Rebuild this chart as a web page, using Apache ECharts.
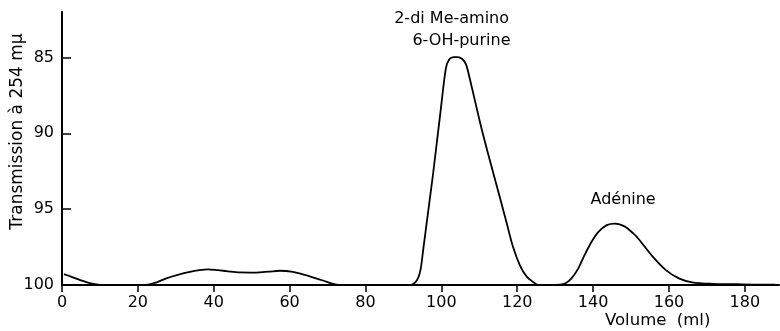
<!DOCTYPE html>
<html>
<head>
<meta charset="utf-8">
<script src="https://cdn.jsdelivr.net/npm/echarts@6/dist/echarts.min.js"></script>
<style>
  html, body { margin: 0; padding: 0; background: #fff; }
  #chart { width: 780px; height: 331px; }
</style>
</head>
<body>
<div id="chart"></div>
<script>
// elution curve: [volume ml, transmission %]
const trace = [
  [0.5, 99.3], [1.2, 99.34], [4.5, 99.65], [8.2, 99.92], [12, 100], [18, 100], [22, 100],
  [25, 99.82], [27.5, 99.56], [30.5, 99.33], [33.7, 99.13], [36.2, 99.02], [38.5, 98.97],
  [41, 99.02], [43.3, 99.08], [46.8, 99.17], [51.2, 99.18], [54.5, 99.12], [57.4, 99.06],
  [60.9, 99.13], [63.5, 99.3], [66.1, 99.49], [69, 99.72], [71.4, 99.92], [74, 100],
  [80, 100], [86, 100], [91.7, 100], [93.5, 99.7], [94.5, 99.0], [95.2, 97.7], [96.5, 95.2],
  [97.9, 92.5], [99.9, 88.3], [101.2, 85.7], [102.1, 85.12], [103.2, 84.97], [104.3, 84.97],
  [105.5, 85.1], [106.5, 85.45], [107.4, 86.3], [110.9, 90.0], [115.4, 94.2], [117.2, 95.9],
  [118.9, 97.5], [120.7, 98.7], [122.5, 99.45], [124.2, 99.8], [125.4, 100], [130, 100],
  [132.6, 99.9], [134.3, 99.56], [136.1, 98.9], [137.8, 98.0], [139.6, 97.15], [141.4, 96.5],
  [143.6, 96.05], [145.8, 95.95], [148.4, 96.15], [150.6, 96.6], [152.1, 97.0], [155.6, 98.1],
  [159.1, 99.0], [162.6, 99.56], [166.1, 99.82], [171.3, 99.92], [178, 99.95], [184, 99.97],
  [188, 99.97]
];

const xTicks = [0, 20, 40, 60, 80, 100, 120, 140, 160, 180];
const yTicks = [85, 90, 95, 100];

// peak labels: [volume, transmission, text]
const peakLabels = [
  [102.7, 82.45, "2-di Me-amino"],
  [105.3, 83.9, "6-OH-purine"],
  [147.9, 94.4, "Adénine"]
];

const font = "DejaVu Sans";

const chart = echarts.init(document.getElementById("chart"));

chart.setOption({
  backgroundColor: "#ffffff",
  animation: false,
  grid: { left: 62, right: 1, top: 12, bottom: 46, outerBoundsMode: "none", containLabel: false },
  xAxis: {
    type: "value",
    min: 0,
    max: 189,
    axisLine: { lineStyle: { color: "#000", width: 2 } },
    axisTick: { customValues: xTicks, length: 7, lineStyle: { color: "#000", width: 1.5 } },
    axisLabel: {
      customValues: xTicks,
      color: "#000",
      fontFamily: font,
      fontSize: 16,
      margin: 10
    },
    splitLine: { show: false }
  },
  yAxis: {
    type: "value",
    inverse: true,
    min: 82,
    max: 100,
    name: "Transmission à 254 mμ",
    nameLocation: "middle",
    nameGap: 36,
    nameRotate: 90,
    nameMoveOverlap: false,
    nameTextStyle: { color: "#000", fontFamily: font, fontSize: 17, padding: [0, 0, 0, 34] },
    axisLine: { show: true, lineStyle: { color: "#000", width: 2 } },
    axisTick: { show: true, inside: true, customValues: yTicks, length: 9, lineStyle: { color: "#000", width: 1.5 } },
    axisLabel: {
      customValues: yTicks,
      color: "#000",
      fontFamily: font,
      fontSize: 16,
      margin: 8
    },
    splitLine: { show: false }
  },
  graphic: [
    {
      type: "text",
      left: 605,
      top: 312,
      style: { text: "Volume  (ml)", fill: "#000", font: "16.5px " + font }
    }
  ],
  series: [
    {
      type: "line",
      data: trace,
      smooth: 0.3,
      showSymbol: false,
      lineStyle: { color: "#000", width: 1.8 },
      markPoint: {
        symbol: "circle",
        symbolSize: 0,
        label: {
          show: true,
          position: "inside",
          color: "#000",
          fontFamily: font,
          fontSize: 16,
          formatter: (p) => p.name
        },
        data: peakLabels.map((d) => ({ coord: [d[0], d[1]], name: d[2] }))
      }
    }
  ]
});
</script>
</body>
</html>
